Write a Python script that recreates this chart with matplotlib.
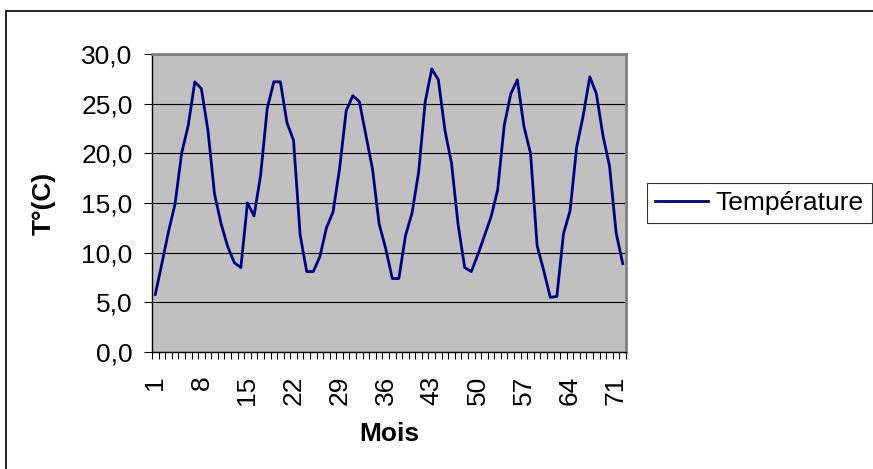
import matplotlib
matplotlib.use('Agg')
import matplotlib.pyplot as plt
from matplotlib.patches import Rectangle
import numpy as np

plt.rcParams['font.family'] = ['Liberation Sans', 'DejaVu Sans']

# relevé mensuel des températures (°C), 72 mois
mois = np.arange(1, 73)
temperature = [5.8, 8.9, 12.1, 14.9, 20.0, 22.8, 27.2, 26.5, 22.3, 15.9, 12.9, 10.6,
               9.0, 8.5, 15.0, 13.7, 17.8, 24.5, 27.2, 27.2, 23.1, 21.3, 11.8, 8.1,
               8.1, 9.6, 12.5, 14.1, 18.5, 24.3, 25.8, 25.2, 21.8, 18.4, 12.9, 10.4,
               7.4, 7.4, 11.7, 14.0, 18.1, 25.2, 28.5, 27.4, 22.3, 19.0, 12.8, 8.5,
               8.1, 9.8, 11.7, 13.6, 16.3, 22.8, 26.0, 27.4, 22.7, 20.0, 10.7, 8.2,
               5.5, 5.6, 11.9, 14.2, 20.6, 23.8, 27.7, 26.0, 21.8, 18.7, 12.0, 8.9]
y_ticks = [0, 5, 10, 15, 20, 25, 30]
y_labels = ['0,0', '5,0', '10,0', '15,0', '20,0', '25,0', '30,0']
x_ticks = mois[::7]

fig = plt.figure(figsize=(8.73, 4.69), dpi=100)
fig.patch.set_facecolor('white')

# cadre extérieur du graphique (coupé à droite et en bas)
fig.patches.append(Rectangle((6 / 873, -0.1), 1.2, 1 - 11 / 469 + 0.1,
                             transform=fig.transFigure, fill=False,
                             edgecolor='black', linewidth=1.2))

ax = fig.add_axes([152 / 873, 117 / 469, 474 / 873, 298 / 469])
ax.set_facecolor('#C0C0C0')

ax.plot(mois, temperature, color='#000080', linewidth=2.0, label='Température')

ax.set_xlim(0.5, 72.5)
ax.set_ylim(0, 30)
ax.set_yticks(y_ticks)
ax.set_yticklabels(y_labels)
ax.yaxis.grid(True, color='black', linewidth=0.8)
ax.set_axisbelow(True)

ax.set_xticks(x_ticks)
ax.set_xticklabels([str(m) for m in x_ticks], rotation=90)
ax.set_xticks(np.arange(0.5, 73, 1), minor=True)
ax.tick_params(axis='x', which='major', length=0, pad=17, labelsize=19)
ax.tick_params(axis='x', which='minor', length=5, width=0.8, direction='out')
ax.tick_params(axis='y', length=6, width=0.8, pad=8, labelsize=19)

for s in ['top', 'right']:
    ax.spines[s].set_color('#808080')
    ax.spines[s].set_linewidth(2)
for s in ['left', 'bottom']:
    ax.spines[s].set_color('black')
    ax.spines[s].set_linewidth(1)

ax.set_xlabel('Mois', fontsize=19, fontweight='bold', labelpad=12)
ax.set_ylabel('T°(C)', fontsize=19, fontweight='bold', labelpad=18)

leg = fig.legend(loc='upper left', bbox_to_anchor=(647 / 873, 1 - 183 / 469),
                 fontsize=19, frameon=True, fancybox=False, borderpad=0.3,
                 handlelength=2.0, handletextpad=0.3, borderaxespad=0)
leg.get_frame().set_edgecolor('black')
leg.get_frame().set_linewidth(0.8)

fig.savefig('out.png', dpi=100)
